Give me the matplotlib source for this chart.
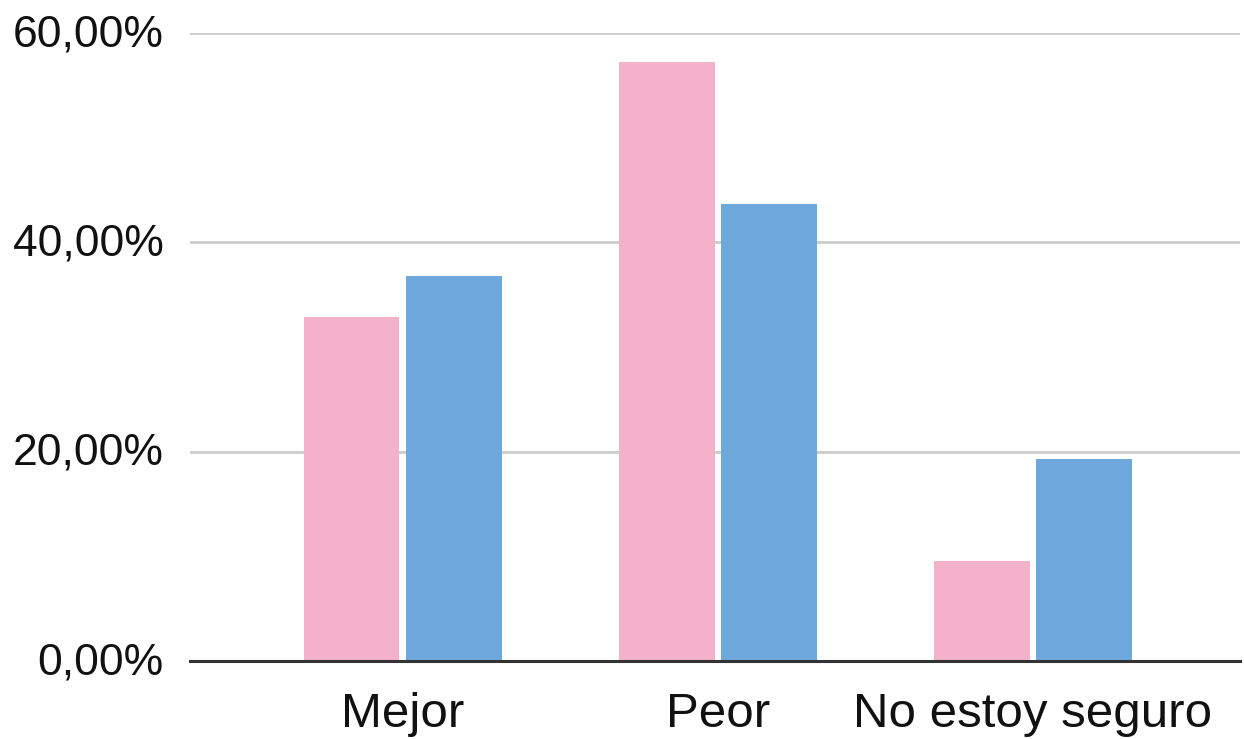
import matplotlib
matplotlib.use('Agg')
import matplotlib.pyplot as plt
import matplotlib.transforms as mtransforms
import numpy as np

categories = ['Mejor', 'Peor', 'No estoy seguro']
serie_rosa = [32.9, 57.2, 9.6]
serie_azul = [36.8, 43.7, 19.3]
yticks = [0, 20, 40, 60]
ytick_labels = ['0,00%', '20,00%', '40,00%', '60,00%']

color_rosa = '#F4B2CA'
color_azul = '#6FA8DC'

plt.rcParams['font.family'] = ['Liberation Sans', 'DejaVu Sans']

fig = plt.figure(figsize=(12.44, 7.39), dpi=100)
ax = fig.add_axes([190 / 1244, 78 / 739, 1050 / 1244, 628 / 739])

x = np.arange(len(categories))
w = 0.302
off = 0.162
ax.bar(x - off, serie_rosa, width=w, color=color_rosa, zorder=3)
ax.bar(x + off, serie_azul, width=w, color=color_azul, zorder=3)

ax.set_xlim(-0.676, 2.657)
ax.set_ylim(0, 60)
ax.set_yticks(yticks)
ax.set_yticklabels(ytick_labels)
ax.set_xticks(x)
ax.set_xticklabels(categories)

ax.grid(axis='y', color='#cccccc', linewidth=2, zorder=0)
ax.axhline(0, color='#333333', linewidth=2.2, zorder=4, clip_on=False)
for s in ax.spines.values():
    s.set_visible(False)

ax.tick_params(axis='y', length=0, pad=19, labelsize=32, labelcolor='#111111')
ax.tick_params(axis='x', length=0, pad=22, labelsize=35.5, labelcolor='#111111')

# y labels sit a little above their gridline
shift = mtransforms.ScaledTranslation(0, 3 / 100, fig.dpi_scale_trans)
for lbl in ax.get_yticklabels():
    lbl.set_transform(lbl.get_transform() + shift)

fig.savefig('out.png', dpi=100)
